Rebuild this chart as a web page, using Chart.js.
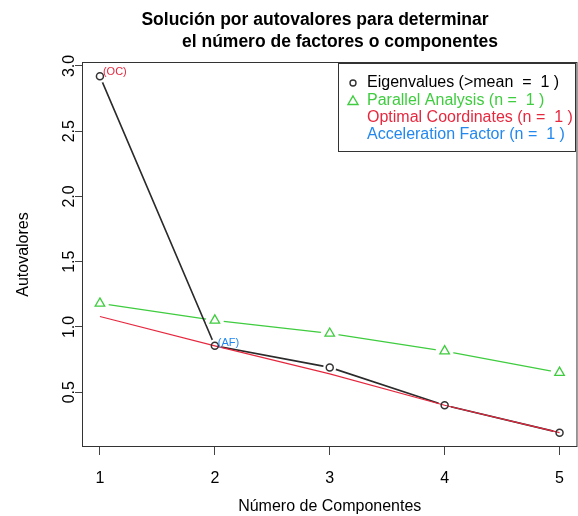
<!DOCTYPE html>
<html>
<head>
<meta charset="utf-8">
<script src="https://cdn.jsdelivr.net/npm/chart.js@4.4.0/dist/chart.umd.min.js"></script>
<style>
  html, body { margin: 0; padding: 0; background: #fff; }
</style>
</head>
<body>
<canvas id="scree" width="578" height="516"></canvas>
<script>
// datos
const componentes = [1, 2, 3, 4, 5];
const autovalores = [2.92, 0.855, 0.69, 0.40, 0.19];
const analisisParalelo = [1.18, 1.05, 0.95, 0.815, 0.65];
const coordOptimas = [1.08, 0.855, 0.64, 0.40, 0.19];
const yTicks = [0.5, 1.0, 1.5, 2.0, 2.5, 3.0];
const titulo = ['Solución por autovalores para determinar', 'el número de factores o componentes'];
const leyendaTextos = [
    'Eigenvalues (>mean  =  1 )',
    'Parallel Analysis (n =  1 )',
    'Optimal Coordinates (n =  1 )',
    'Acceleration Factor (n =  1 )'
];
const etiquetaOC = '(OC)';
const etiquetaAF = '(AF)';
const indiceOC = 0;
const indiceAF = 1;

const FONT = "'Liberation Sans', Arial, Helvetica, sans-serif";
const NEGRO = '#2b2b2b';
const VERDE = '#3fcc3f';
const ROJO = '#e6283f';
const AZUL = '#2288ee';

function puntos(vals) {
    return componentes.map(function (c, i) { return { x: c, y: vals[i] }; });
}

/* titulo, caja, leyenda y etiquetas, al estilo de R base */
const estiloR = {
    id: 'estiloR',
    afterDraw: function (chart) {
        const ctx = chart.ctx;
        const a = chart.chartArea;
        const xs = chart.scales.x;
        const ys = chart.scales.y;
        ctx.save();

        // caja del grafico
        ctx.strokeStyle = '#333';
        ctx.lineWidth = 1;
        ctx.strokeRect(a.left + 0.5, a.top + 0.5, a.right - a.left - 1, a.bottom - a.top - 1);

        // titulo
        ctx.fillStyle = '#000';
        ctx.font = 'bold 17.5px ' + FONT;
        ctx.textAlign = 'center';
        ctx.textBaseline = 'middle';
        ctx.fillText(titulo[0], 315, 20);
        ctx.fillText(titulo[1], 340, 42);

        // leyenda
        ctx.strokeStyle = '#333';
        ctx.strokeRect(338.5, 63.5, 237, 88);
        const colores = ['#000', VERDE, ROJO, AZUL];
        const yLeg = [83, 101, 118, 135];
        ctx.font = '16px ' + FONT;
        ctx.textAlign = 'left';
        for (let i = 0; i < leyendaTextos.length; i++) {
            ctx.fillStyle = colores[i];
            ctx.fillText(leyendaTextos[i], 367, yLeg[i]);
        }
        ctx.lineWidth = 1.4;
        ctx.strokeStyle = '#333';
        ctx.beginPath();
        ctx.arc(353, yLeg[0], 3, 0, Math.PI * 2);
        ctx.stroke();
        ctx.strokeStyle = VERDE;
        ctx.beginPath();
        ctx.moveTo(353, yLeg[1] - 5);
        ctx.lineTo(358, yLeg[1] + 3.5);
        ctx.lineTo(348, yLeg[1] + 3.5);
        ctx.closePath();
        ctx.stroke();

        // etiquetas (OC) y (AF)
        ctx.font = '11px ' + FONT;
        ctx.fillStyle = ROJO;
        ctx.fillText(etiquetaOC, xs.getPixelForValue(componentes[indiceOC]) + 3,
            ys.getPixelForValue(autovalores[indiceOC]) - 4);
        ctx.fillStyle = AZUL;
        ctx.fillText(etiquetaAF, xs.getPixelForValue(componentes[indiceAF]) + 3,
            ys.getPixelForValue(autovalores[indiceAF]) - 3);
        ctx.restore();
    }
};

// type = "b" de R: lineas con un hueco alrededor de cada punto
function halo(vals, r) {
    return {
        data: puntos(vals), showLine: false, pointRadius: r, pointBorderWidth: 0,
        pointBackgroundColor: '#fff', pointBorderColor: '#fff', order: 8
    };
}

var ctx = document.getElementById('scree').getContext('2d');
var chart = new Chart(ctx, {
    type: 'line',
    data: {
        datasets: [
            { label: 'Parallel Analysis', data: puntos(analisisParalelo), borderColor: VERDE,
              borderWidth: 1.3, pointRadius: 0, tension: 0, order: 10 },
            { label: 'Eigenvalues', data: puntos(autovalores), borderColor: NEGRO,
              borderWidth: 1.6, pointRadius: 0, tension: 0, order: 9 },
            halo(analisisParalelo, 9),
            halo(autovalores, 6.5),
            { label: 'Optimal Coordinates', data: puntos(coordOptimas), borderColor: ROJO,
              borderWidth: 1.2, pointRadius: 0, tension: 0, order: 7 },
            {
                data: puntos(analisisParalelo),
                showLine: false,
                pointStyle: 'triangle',
                pointRadius: 5.5,
                pointBorderWidth: 1.3,
                pointBorderColor: VERDE,
                pointBackgroundColor: 'rgba(255,255,255,0)',
                order: 6
            },
            {
                data: puntos(autovalores),
                showLine: false,
                pointStyle: 'circle',
                pointRadius: 3.5,
                pointBorderWidth: 1.5,
                pointBorderColor: '#333',
                pointBackgroundColor: 'rgba(255,255,255,0)',
                order: 5
            }
        ]
    },
    options: {
        responsive: false,
        animation: false,
        layout: { autoPadding: false, padding: { top: 62, right: 0, left: 0, bottom: 0 } },
        plugins: {
            legend: { display: false },
            tooltip: { enabled: false },
            title: { display: false }
        },
        scales: {
            x: {
                type: 'linear',
                min: 0.844,
                max: 5.156,
                afterBuildTicks: function (s) { s.ticks = componentes.map(function (v) { return { value: v }; }); },
                afterFit: function (s) { s.height = 69; },
                border: { display: false },
                grid: { drawOnChartArea: false, drawTicks: true, tickLength: 8, color: '#444' },
                ticks: { color: '#000', font: { family: FONT, size: 16 }, padding: 14, maxRotation: 0 },
                title: { display: true, text: 'Número de Componentes', color: '#000',
                    font: { family: FONT, size: 16 }, padding: { top: 0, bottom: 0 } }
            },
            y: {
                type: 'linear',
                min: 0.08,
                max: 3.03,
                afterBuildTicks: function (s) { s.ticks = yTicks.map(function (v) { return { value: v }; }); },
                afterFit: function (s) { s.width = 82; },
                border: { display: false },
                grid: { drawOnChartArea: false, drawTicks: true, tickLength: 7, color: '#444' },
                ticks: {
                    color: '#000', font: { family: FONT, size: 16 },
                    minRotation: 90, maxRotation: 90, crossAlign: 'center', padding: -6,
                    callback: function (v) { return v.toFixed(1); }
                },
                title: { display: true, text: 'Autovalores', color: '#000',
                    font: { family: FONT, size: 16 }, padding: { top: 14, bottom: 0 } }
            }
        }
    },
    plugins: [estiloR]
});
</script>
</body>
</html>
